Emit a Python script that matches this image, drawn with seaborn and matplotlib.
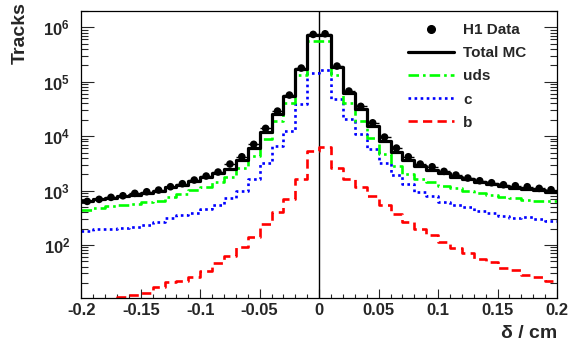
import numpy as np
import pandas as pd
import matplotlib
matplotlib.use("Agg")
import matplotlib.pyplot as plt
from matplotlib.lines import Line2D
from matplotlib.ticker import FixedLocator, MultipleLocator, LogLocator, NullFormatter
import seaborn as sns

# bin edges: 40 bins of 0.01 cm
edges = np.round(np.linspace(-0.2, 0.2, 41), 3)
centers = (edges[:-1] + edges[1:]) / 2

data_h1 = [632, 689, 750, 802, 889, 950, 1021, 1175, 1334, 1560,
           1848, 2188, 3070, 4180, 7070, 13900, 28900, 57000, 178600, 743000,
           763000, 194400, 67500, 35300, 17600, 9620, 6040, 4180, 3070, 2737,
           2254, 1928, 1698, 1514, 1391, 1278, 1225, 1175, 1097, 1035]
total_mc = [650, 689, 728, 793, 836, 912, 991, 1146, 1280, 1476,
            1749, 2070, 2518, 3640, 5960, 12050, 25800, 54600, 171000, 713000,
            731000, 187000, 62000, 31900, 15300, 8020, 5030, 3590, 2860, 2350,
            2130, 1750, 1607, 1432, 1300, 1210, 1111, 1052, 1021, 950]
uds = [438, 471, 513, 535, 565, 607, 649, 750, 863, 1009,
       1146, 1415, 1749, 2594, 4256, 8730, 18700, 40100, 131000, 553000,
       553000, 131000, 40100, 18700, 9120, 4630, 2820, 2037, 1648, 1415,
       1211, 1097, 967, 889, 816, 750, 719, 668, 649, 632]
c_quark = [180, 194, 199, 207, 213, 235, 264, 308, 350, 381,
           457, 535, 738, 980, 1626, 3160, 6580, 12560, 38900, 142600,
           162000, 48700, 20400, 10800, 5720, 3160, 1903, 1300, 927, 793,
           622, 541, 504, 420, 381, 336, 308, 321, 296, 275]
b_quark = [8, 9, 10, 11.2, 11.9, 12.9, 16.8, 20.5, 21.4, 25.4,
           32.7, 45.9, 61.7, 90.3, 138, 239, 397, 689, 1607, 5260,
           6380, 2558, 1607, 1146, 782, 535, 365, 260, 194, 150,
           113, 86.5, 70.1, 54.3, 47.9, 37.2, 34.1, 27.6, 25.7, 21.4]

xtick_vals = [-0.2, -0.15, -0.1, -0.05, 0, 0.05, 0.1, 0.15, 0.2]
xtick_labels = ['-0.2', '-0.15', '-0.1', '-0.05', '0', '0.05', '0.1', '0.15', '0.2']
ytick_vals = [1e2, 1e3, 1e4, 1e5, 1e6]
ytick_labels = ['$10^{2}$', '$10^{3}$', '$10^{4}$', '$10^{5}$', '$10^{6}$']

df = pd.DataFrame({'delta': centers, 'data': data_h1, 'total': total_mc,
                   'uds': uds, 'c': c_quark, 'b': b_quark})

sns.set_style('ticks')
plt.rcParams['font.family'] = ['Liberation Sans', 'DejaVu Sans']
plt.rcParams['font.weight'] = 'bold'
plt.rcParams['mathtext.fontset'] = 'custom'
plt.rcParams['mathtext.rm'] = 'Liberation Sans:bold'
plt.rcParams['mathtext.it'] = 'Liberation Sans:bold'
plt.rcParams['mathtext.bf'] = 'Liberation Sans:bold'

fig = plt.figure(figsize=(5.79, 3.53), dpi=100)
ax = fig.add_axes([0.1404, 0.1572, 0.8216, 0.8116])
ax.set_yscale('log')

green = '#00ff00'
series = [
    ('b', '#ff0000', (0, (3.5, 2.0)), 1.9),
    ('c', '#0000ff', (0, (1.0, 1.3)), 1.9),
    ('uds', green, (0, (4.0, 1.5, 1.0, 1.5)), 1.9),
    ('total', 'black', '-', 2.3),
]
for col_name, col, ls, lw in series:
    sns.histplot(data=df, x='delta', weights=col_name, bins=list(edges), element='step',
                 fill=False, color=col, linestyle=ls, linewidth=lw, ax=ax)

ax.axvline(0, color='black', lw=1.0, zorder=1)

ax.errorbar(df['delta'], df['data'], xerr=0.005, fmt='none', ecolor='black', elinewidth=1.0, zorder=4)
sns.scatterplot(data=df, x='delta', y='data', color='black', s=30, edgecolor='none', zorder=5, ax=ax)

ax.set_xlim(-0.2, 0.2)
ax.set_ylim(10.8, 2.0e6)
ax.set_xlabel('')
ax.set_ylabel('')

ax.xaxis.set_major_locator(FixedLocator(xtick_vals))
ax.set_xticklabels(xtick_labels)
ax.xaxis.set_minor_locator(MultipleLocator(0.01))
ax.yaxis.set_major_locator(FixedLocator(ytick_vals))
ax.set_yticklabels(ytick_labels)
ax.yaxis.set_minor_locator(LogLocator(base=10, subs=np.arange(2, 10), numticks=20))
ax.yaxis.set_minor_formatter(NullFormatter())

ax.tick_params(axis='x', which='major', direction='in', length=6.5, width=0.8, labelsize=12, pad=4, top=False)
ax.tick_params(axis='x', which='minor', direction='in', length=3.2, width=0.8, top=False)
ax.tick_params(axis='y', which='major', direction='in', length=9.5, width=0.8, labelsize=12, pad=8, right=True)
ax.tick_params(axis='y', which='minor', direction='in', length=4.8, width=0.8, right=True)
for sp in ax.spines.values():
    sp.set_linewidth(0.9)
    sp.set_color('black')
    sp.set_visible(True)

fig.text(0.035, 0.995, 'Tracks', rotation=90, ha='center', va='top', fontsize=14, fontweight='bold')
fig.text(557 / 579, 1 - 333 / 353, 'δ / cm', ha='right', va='center', fontsize=14, fontweight='bold')

handles = [
    Line2D([], [], color='black', marker='o', markersize=5.5, linestyle='none'),
    Line2D([], [], color='black', lw=2.3),
    Line2D([], [], color=green, lw=1.9, linestyle=(0, (4.0, 1.5, 1.0, 1.5))),
    Line2D([], [], color='#0000ff', lw=1.9, linestyle=(0, (1.0, 1.3))),
    Line2D([], [], color='#ff0000', lw=1.9, linestyle=(0, (3.5, 2.0))),
]
labels = ['H1 Data', 'Total MC', 'uds', 'c', 'b']
ax.legend(handles, labels, loc='upper left', bbox_to_anchor=(0.687, 0.958), frameon=False,
          fontsize=11, handlelength=3.0, handletextpad=0.6, labelspacing=0.6, borderpad=0,
          borderaxespad=0)

fig.savefig('out.png', dpi=100)
